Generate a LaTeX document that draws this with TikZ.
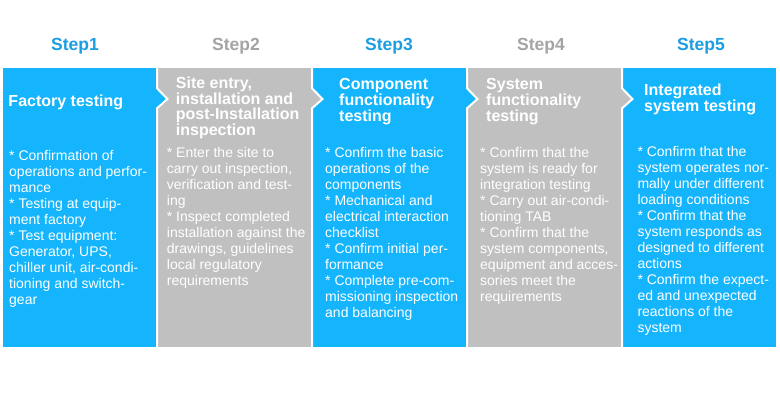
\documentclass[tikz,border=0pt]{standalone}
\usepackage{fontspec}
\setmainfont{Liberation Sans}
\usetikzlibrary{calc}
\definecolor{stepblue}{RGB}{20,181,252}
\definecolor{steplabblue}{RGB}{27,157,226}
\definecolor{stepgrey}{RGB}{192,192,192}
\definecolor{steplabgrey}{RGB}{164,164,164}
\tikzset{
  steplab/.style = {font=\fontsize{17.5}{20}\selectfont\bfseries, inner sep=0pt},
  phead/.style   = {font=\fontsize{16}{15.7}\selectfont\bfseries, text=white,
                    align=left, anchor=north west, inner sep=0pt},
  pbody/.style   = {font=\fontsize{14}{16}\selectfont, text=white,
                    align=left, anchor=north west, inner sep=0pt},
  gapline/.style = {white, line width=2pt},
}
\newcommand{\ptop}{67.7}
\newcommand{\pbot}{346.7}

\begin{document}
\begin{tikzpicture}[x=1pt, y=-1pt]
\useasboundingbox (0,0) rectangle (780,400);
% panels, then the arrow tip of each panel into the next one
\foreach \i/\c in {1/stepblue,2/stepgrey,3/stepblue,4/stepgrey,5/stepblue} {
  \pgfmathsetmacro{\pl}{3+155*(\i-1)}
  \fill[\c] (\pl,\ptop) rectangle ({\pl+153},\pbot);
}
\foreach \i/\c in {1/stepblue,2/stepgrey,3/stepblue,4/stepgrey} {
  \pgfmathsetmacro{\g}{3+155*\i-1}
  \fill[\c] ({\g-2},88.3) -- (\g,88.3) -- ({\g+10.5},99) -- (\g,108.3) -- ({\g-2},108.3) -- cycle;
  \draw[gapline] (\g,\ptop) -- (\g,88.3) -- ({\g+10.5},99) -- (\g,108.3) -- (\g,\pbot);
}
\foreach \n/\x/\c in {1/75/steplabblue,2/236/steplabgrey,3/389/steplabblue,4/541/steplabgrey,5/701/steplabblue}
  \node[steplab, text=\c] (step\n) at (\x,46.7) {Step\n};

\node[phead] (head1) at (8.3,95) {Factory testing};
\node[phead] (head2) at (175.7,76.7) {Site entry,\\installation and\\post-Installation\\inspection};
\node[phead] (head3) at (339,78.3) {Component\\functionality\\testing};
\node[phead] (head4) at (486,78.3) {System\\functionality\\testing};
\node[phead] (head5) at (644,84) {Integrated\\system testing};

\node[pbody] (body1) at (9,150) {* Confirmation of\\operations and perfor-\\mance\\* Testing at equip-\\ment factory\\* Test equipment:\\Generator, UPS,\\chiller unit, air-condi-\\tioning and switch-\\gear};
\node[pbody] (body2) at (166.7,146.7) {* Enter the site to\\carry out inspection,\\verification and test-\\ing\\* Inspect completed\\installation against the\\drawings, guidelines\\local regulatory\\requirements};
\node[pbody] (body3) at (325,146.7) {* Confirm the basic\\operations of the\\components\\* Mechanical and\\electrical interaction\\checklist\\* Confirm initial per-\\formance\\* Complete pre-com-\\missioning inspection\\and balancing};
\node[pbody] (body4) at (480,146.7) {* Confirm that the\\system is ready for\\integration testing\\* Carry out air-condi-\\tioning TAB\\* Confirm that the\\system components,\\equipment and acces-\\sories meet the\\requirements};
\node[pbody] (body5) at (637.3,146) {* Confirm that the\\system operates nor-\\mally under different\\loading conditions\\* Confirm that the\\system responds as\\designed to different\\actions\\* Confirm the expect-\\ed and unexpected\\reactions of the\\system};
\end{tikzpicture}
\end{document}
